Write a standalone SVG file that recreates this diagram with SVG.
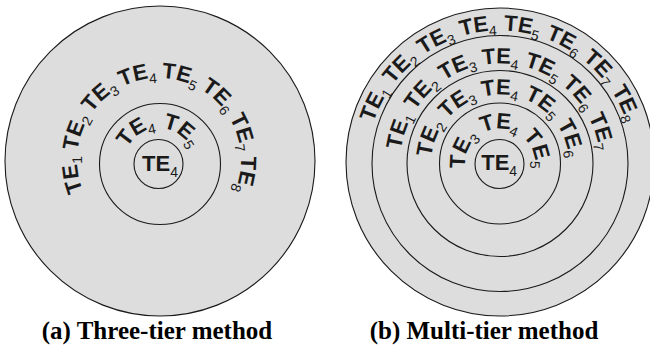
<svg xmlns="http://www.w3.org/2000/svg" width="650" height="352" viewBox="0 0 650 352">
<defs>
<path id="pA1" d="M159,242 A82,82 0 1,1 159,78 A82,82 0 1,1 159,242"/>
<path id="pA2" d="M159,198 A35,35 0 1,1 159,128 A35,35 0 1,1 159,198"/>
<path id="pB1" d="M500,296.5 A133,133 0 1,1 500,30.5 A133,133 0 1,1 500,296.5"/>
<path id="pB2" d="M500,263.5 A100,100 0 1,1 500,63.5 A100,100 0 1,1 500,263.5"/>
<path id="pB3" d="M500,232.5 A69,69 0 1,1 500,94.5 A69,69 0 1,1 500,232.5"/>
<path id="pB4" d="M500,198.5 A35,35 0 1,1 500,128.5 A35,35 0 1,1 500,198.5"/>
</defs>
<style>
.ring{fill:#dddddd;stroke:#1a1a1a;stroke-width:1.1}
.te{font-family:"Liberation Sans",Arial,sans-serif;font-weight:bold;font-size:22px;fill:#1a1a1a;text-anchor:middle}
.s{font-weight:normal;font-size:14px}
.cap{font-family:"Liberation Serif","Times New Roman",serif;font-weight:bold;font-size:25px;fill:#000;text-anchor:middle}
</style>
<g id="three-tier">
<circle class="ring" cx="160" cy="161" r="155"/>
<circle class="ring" cx="160" cy="164" r="60.5"/>
<circle class="ring" cx="158.5" cy="164" r="24.5"/>
<g id="a-outer-labels">
<text class="te"><textPath href="#pA1" startOffset="114.8">TE<tspan class="s" dy="5">1</tspan></textPath></text>
<text class="te"><textPath href="#pA1" startOffset="155.6">TE<tspan class="s" dy="5">2</tspan></textPath></text>
<text class="te"><textPath href="#pA1" startOffset="196.4">TE<tspan class="s" dy="5">3</tspan></textPath></text>
<text class="te"><textPath href="#pA1" startOffset="237.1">TE<tspan class="s" dy="5">4</tspan></textPath></text>
<text class="te"><textPath href="#pA1" startOffset="277.9">TE<tspan class="s" dy="5">5</tspan></textPath></text>
<text class="te"><textPath href="#pA1" startOffset="318.7">TE<tspan class="s" dy="5">6</tspan></textPath></text>
<text class="te"><textPath href="#pA1" startOffset="359.5">TE<tspan class="s" dy="5">7</tspan></textPath></text>
<text class="te"><textPath href="#pA1" startOffset="400.3">TE<tspan class="s" dy="5">8</tspan></textPath></text>
</g>
<g id="a-middle-labels">
<text class="te"><textPath href="#pA2" startOffset="88.6">TE<tspan class="s" dy="5">4</tspan></textPath></text>
<text class="te"><textPath href="#pA2" startOffset="131.3">TE<tspan class="s" dy="5">5</tspan></textPath></text>
</g>
<text id="a-center" class="te" x="160" y="170.7">TE<tspan class="s" dy="6">4</tspan></text>
</g>
<g id="multi-tier">
<circle class="ring" cx="500" cy="162" r="154"/>
<circle class="ring" cx="500" cy="163.5" r="128"/>
<circle class="ring" cx="500" cy="163.5" r="93"/>
<circle class="ring" cx="500" cy="163.5" r="60.5"/>
<circle class="ring" cx="499.5" cy="164" r="24.5"/>
<g id="b-ring1-labels">
<text class="te"><textPath href="#pB1" startOffset="268.3">TE<tspan class="s" dy="5">1</tspan></textPath></text>
<text class="te"><textPath href="#pB1" startOffset="311.1">TE<tspan class="s" dy="5">2</tspan></textPath></text>
<text class="te"><textPath href="#pB1" startOffset="353.8">TE<tspan class="s" dy="5">3</tspan></textPath></text>
<text class="te"><textPath href="#pB1" startOffset="396.5">TE<tspan class="s" dy="5">4</tspan></textPath></text>
<text class="te"><textPath href="#pB1" startOffset="439.2">TE<tspan class="s" dy="5">5</tspan></textPath></text>
<text class="te"><textPath href="#pB1" startOffset="481.9">TE<tspan class="s" dy="5">6</tspan></textPath></text>
<text class="te"><textPath href="#pB1" startOffset="524.6">TE<tspan class="s" dy="5">7</tspan></textPath></text>
<text class="te"><textPath href="#pB1" startOffset="567.3">TE<tspan class="s" dy="5">8</tspan></textPath></text>
</g>
<g id="b-ring2-labels">
<text class="te"><textPath href="#pB2" startOffset="188.5">TE<tspan class="s" dy="5">1</tspan></textPath></text>
<text class="te"><textPath href="#pB2" startOffset="230.4">TE<tspan class="s" dy="5">2</tspan></textPath></text>
<text class="te"><textPath href="#pB2" startOffset="272.3">TE<tspan class="s" dy="5">3</tspan></textPath></text>
<text class="te"><textPath href="#pB2" startOffset="314.2">TE<tspan class="s" dy="5">4</tspan></textPath></text>
<text class="te"><textPath href="#pB2" startOffset="356.0">TE<tspan class="s" dy="5">5</tspan></textPath></text>
<text class="te"><textPath href="#pB2" startOffset="397.9">TE<tspan class="s" dy="5">6</tspan></textPath></text>
<text class="te"><textPath href="#pB2" startOffset="439.8">TE<tspan class="s" dy="5">7</tspan></textPath></text>
</g>
<g id="b-ring3-labels">
<text class="te"><textPath href="#pB3" startOffset="132.5">TE<tspan class="s" dy="5">2</tspan></textPath></text>
<text class="te"><textPath href="#pB3" startOffset="174.6">TE<tspan class="s" dy="5">3</tspan></textPath></text>
<text class="te"><textPath href="#pB3" startOffset="216.8">TE<tspan class="s" dy="5">4</tspan></textPath></text>
<text class="te"><textPath href="#pB3" startOffset="258.9">TE<tspan class="s" dy="5">5</tspan></textPath></text>
<text class="te"><textPath href="#pB3" startOffset="301.1">TE<tspan class="s" dy="5">6</tspan></textPath></text>
</g>
<g id="b-ring4-labels">
<text class="te"><textPath href="#pB4" startOffset="67.8">TE<tspan class="s" dy="5">3</tspan></textPath></text>
<text class="te"><textPath href="#pB4" startOffset="110.0">TE<tspan class="s" dy="5">4</tspan></textPath></text>
<text class="te"><textPath href="#pB4" startOffset="152.1">TE<tspan class="s" dy="5">5</tspan></textPath></text>
</g>
<text id="b-center" class="te" x="499.2" y="170">TE<tspan class="s" dy="6">4</tspan></text>
</g>
<g id="captions">
<text class="cap" x="157" y="339">(a) Three-tier method</text>
<text class="cap" x="484" y="339">(b) Multi-tier method</text>
</g>
</svg>
